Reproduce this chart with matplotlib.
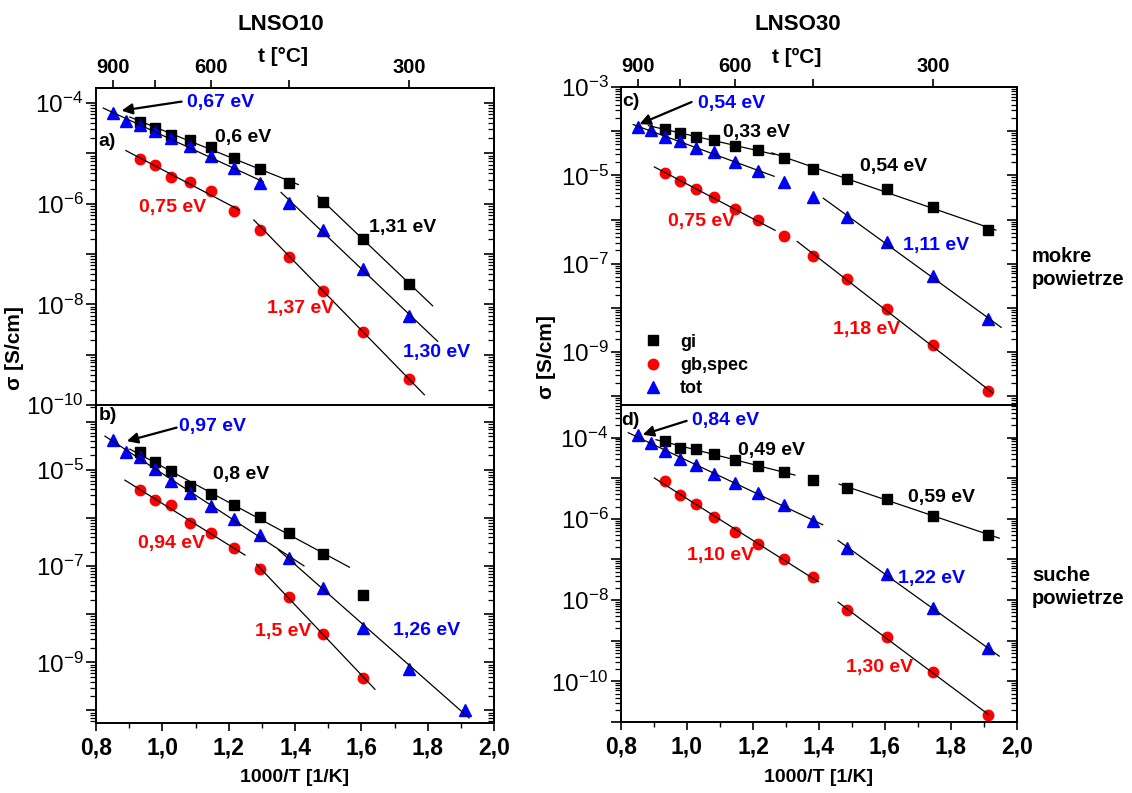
import numpy as np
import matplotlib
matplotlib.use('Agg')
import matplotlib.pyplot as plt
from matplotlib.ticker import (FixedLocator, MultipleLocator, LogLocator,
                               FuncFormatter, NullFormatter, NullLocator)

plt.rcParams['font.family'] = ['Liberation Sans', 'DejaVu Sans']
plt.rcParams['mathtext.default'] = 'regular'

# =======================
# DATA (log10 of sigma [S/cm])
# =======================
temps_full = [900, 850, 800, 750, 700, 650, 600, 550, 500, 450, 400, 350, 300, 250]
temps_a_tot = temps_full[:13]
temps_a_part = temps_full[2:13]
temps_b_part = temps_full[2:12]
temps_cd_part = temps_full[2:]

# a) LNSO10, mokre powietrze
a_gi = [-4.37, -4.49, -4.63, -4.74, -4.87, -5.09, -5.31, -5.58, -5.96, -6.70, -7.59]
a_gb = [-5.11, -5.23, -5.47, -5.56, -5.74, -6.14, -6.53, -7.05, -7.73, -8.55, -9.49]
a_tot = [-4.20, -4.35, -4.43, -4.56, -4.70, -4.86, -5.06, -5.28, -5.58, -5.98, -6.52, -7.30, -8.23]

# b) LNSO10, suche powietrze
b_gi = [-4.62, -4.83, -5.03, -5.34, -5.50, -5.73, -5.98, -6.32, -6.74, -7.59]
b_gb = [-5.42, -5.62, -5.73, -6.11, -6.32, -6.62, -7.06, -7.65, -8.40, -9.32]
b_tot = [-4.38, -4.62, -4.74, -4.97, -5.23, -5.47, -5.74, -6.01, -6.36, -6.82, -7.45, -8.29, -9.13, -10.0]

# c) LNSO30, mokre powietrze
c_gi = [-3.95, -4.04, -4.13, -4.21, -4.34, -4.43, -4.60, -4.85, -5.08, -5.31, -5.72, -6.23]
c_gb = [-4.94, -5.12, -5.32, -5.49, -5.76, -6.02, -6.38, -6.83, -7.35, -8.03, -8.85, -9.88]
c_tot = [-3.91, -3.98, -4.13, -4.23, -4.38, -4.48, -4.70, -4.91, -5.16, -5.49, -5.95, -6.52, -7.29, -8.25]

# d) LNSO30, suche powietrze
d_gi = [-4.08, -4.26, -4.28, -4.40, -4.56, -4.70, -4.85, -5.05, -5.23, -5.52, -5.92, -6.39]
d_gb = [-5.08, -5.42, -5.63, -5.96, -6.33, -6.63, -6.98, -7.44, -8.25, -8.92, -9.76, -10.83]
d_tot = [-3.94, -4.13, -4.33, -4.54, -4.68, -4.91, -5.12, -5.37, -5.65, -6.06, -6.72, -7.36, -8.20, -9.19]

# Arrhenius fits: (series, T high, T low, line from x0 to x1 in 1000/T)
a_fits = [('tot', 900, 500, 0.822, 1.304), ('gi', 800, 450, 0.902, 1.41),
          ('gb', 800, 550, 0.890, 1.232), ('gi', 400, 300, 1.468, 1.815),
          ('tot', 450, 300, 1.358, 1.830), ('gb', 450, 300, 1.276, 1.79)]
b_fits = [('tot', 900, 450, 0.827, 1.427), ('tot', 450, 250, 1.35, 1.925),
          ('gi', 800, 400, 0.902, 1.564), ('gb', 800, 550, 0.887, 1.249),
          ('gb', 500, 350, 1.284, 1.641)]
c_fits = [('tot', 900, 550, 0.837, 1.264), ('gi', 800, 550, 0.883, 1.264),
          ('gi', 500, 250, 1.257, 1.936), ('tot', 400, 250, 1.413, 1.952),
          ('gb', 800, 500, 0.901, 1.267), ('gb', 450, 250, 1.334, 1.925)]
d_fits = [('tot', 900, 450, 0.822, 1.411), ('gi', 800, 500, 0.906, 1.327),
          ('gi', 400, 250, 1.461, 1.946), ('gb', 800, 450, 0.901, 1.398),
          ('tot', 400, 250, 1.458, 1.946), ('gb', 400, 250, 1.458, 1.913)]

# Activation energy labels: (text, colour, x, log10 y)
a_labels = [('0,67 eV', 'blue', 1.073, -3.99), ('0,6 eV', 'black', 1.159, -4.68),
            ('0,75 eV', 'red', 0.930, -6.08), ('1,31 eV', 'black', 1.623, -6.48),
            ('1,37 eV', 'red', 1.315, -8.08), ('1,30 eV', 'blue', 1.726, -8.96)]
b_labels = [('0,97 eV', 'blue', 1.051, -4.10), ('0,8 eV', 'black', 1.154, -5.09),
            ('0,94 eV', 'red', 0.926, -6.53), ('1,5 eV', 'red', 1.279, -8.35),
            ('1,26 eV', 'blue', 1.694, -8.34)]
c_labels = [('0,54 eV', 'blue', 1.032, -3.37), ('0,33 eV', 'black', 1.108, -4.04),
            ('0,54 eV', 'black', 1.524, -4.79), ('0,75 eV', 'red', 0.943, -6.04),
            ('1,11 eV', 'blue', 1.655, -6.59), ('1,18 eV', 'red', 1.443, -8.50)]
d_labels = [('0,84 eV', 'blue', 1.014, -3.59), ('0,49 eV', 'black', 1.155, -4.33),
            ('0,59 eV', 'black', 1.671, -5.47), ('1,10 eV', 'red', 0.999, -6.91),
            ('1,22 eV', 'blue', 1.640, -7.48), ('1,30 eV', 'red', 1.482, -9.66)]

top_ticks = [900, 750, 600, 450, 300]
top_labeled = [900, 600, 300]

STYLE = {'gi': dict(marker='s', color='black', ms=7, label='gi'),
         'gb': dict(marker='o', color='red', ms=7.5, label='gb,spec'),
         'tot': dict(marker='^', color='blue', ms=8, label='tot')}


def inv_t(t):
    return 1000.0 / (np.asarray(t, float) + 273.15)


def x_to_t(x):
    x = np.asarray(x, float)
    with np.errstate(divide='ignore', invalid='ignore'):
        return 1000.0 / x - 273.15


def t_to_x(t):
    t = np.asarray(t, float)
    with np.errstate(divide='ignore', invalid='ignore'):
        return 1000.0 / (t + 273.15)


def draw_panel(ax, series, fits, labels, arrow, letter, ylim, label_exps,
               top=False, bottom=False):
    for key in ['gi', 'gb', 'tot']:
        temps, logs = series[key]
        ax.plot(inv_t(temps), 10.0 ** np.array(logs), ls='none', **STYLE[key])

    for key, thi, tlo, x0, x1 in fits:
        temps, logs = series[key]
        t = np.array(temps)
        m = (t <= thi) & (t >= tlo)
        p = np.polyfit(inv_t(t[m]), np.array(logs)[m], 1)
        xx = np.array([x0, x1])
        ax.plot(xx, 10.0 ** np.polyval(p, xx), color='black', lw=0.9)

    for txt, col, x, ly in labels:
        ax.text(x, 10.0 ** ly, txt, color=col, fontsize=14, fontweight='bold',
                ha='left', va='center')

    (xs, ys), (xe, ye) = arrow
    ax.annotate('', xy=(xe, 10.0 ** ye), xytext=(xs, 10.0 ** ys),
                arrowprops=dict(arrowstyle='-|>', color='black', lw=1.6,
                                mutation_scale=16, shrinkA=0, shrinkB=0))
    ax.text(letter[1], 10.0 ** letter[2], letter[0], fontsize=14,
            fontweight='bold', ha='left', va='center')

    ax.set_yscale('log')
    ax.set_xlim(0.8, 2.0)
    ax.set_ylim(10.0 ** ylim[0], 10.0 ** ylim[1])

    fmt = FuncFormatter(lambda v, p: r'$\mathdefault{10^{%d}}$' % round(np.log10(v))
                        if round(np.log10(v)) in label_exps else '')
    ax.yaxis.set_major_locator(LogLocator(base=10, numticks=30))
    ax.yaxis.set_minor_locator(LogLocator(base=10, subs=np.arange(2, 10), numticks=30))
    ax.yaxis.set_major_formatter(fmt)
    ax.yaxis.set_minor_formatter(NullFormatter())
    ax.tick_params(axis='y', which='major', direction='out', length=7, width=1.2,
                   labelsize=17.5, pad=2)
    ax.tick_params(axis='y', which='minor', direction='out', length=4, width=0.9)

    sy = ax.secondary_yaxis('right')
    sy.yaxis.set_major_locator(LogLocator(base=10, numticks=30))
    sy.yaxis.set_minor_locator(LogLocator(base=10, subs=np.arange(2, 10), numticks=30))
    sy.yaxis.set_major_formatter(NullFormatter())
    sy.yaxis.set_minor_formatter(NullFormatter())
    sy.tick_params(which='major', direction='in', length=7, width=1.2)
    sy.tick_params(which='minor', direction='in', length=4, width=0.9)
    sy.spines['right'].set_linewidth(1.4)

    if bottom:
        ax.xaxis.set_major_locator(MultipleLocator(0.2))
        ax.xaxis.set_minor_locator(MultipleLocator(0.1))
        ax.xaxis.set_major_formatter(FuncFormatter(lambda v, p: f'{v:.1f}'.replace('.', ',')))
        ax.tick_params(axis='x', which='major', direction='out', length=6, width=1.2,
                       labelsize=16.5, pad=4)
        ax.tick_params(axis='x', which='minor', direction='out', length=3.5, width=1)
        for lab in ax.get_xticklabels():
            lab.set_fontweight('bold')
    else:
        ax.tick_params(axis='x', which='both', bottom=False, labelbottom=False)

    if top:
        sx = ax.secondary_xaxis('top', functions=(x_to_t, t_to_x))
        sx.xaxis.set_major_locator(FixedLocator(top_ticks))
        sx.xaxis.set_minor_locator(NullLocator())
        sx.xaxis.set_major_formatter(FuncFormatter(
            lambda v, p: f'{v:.0f}' if int(round(v)) in top_labeled else ''))
        sx.tick_params(direction='out', length=6, width=1.2, labelsize=14.5, pad=2)
        for lab in sx.xaxis.get_ticklabels():
            lab.set_fontweight('bold')
        sx.spines['top'].set_linewidth(1.4)

    for s in ax.spines.values():
        s.set_linewidth(1.4)


fig = plt.figure(figsize=(11.32, 7.93), dpi=100)
W, H = 1132.0, 793.0


def box(l, r, t, b):
    return [l / W, 1 - b / H, (r - l) / W, (b - t) / H]


ax_a = fig.add_axes(box(96, 494, 88, 405))
ax_b = fig.add_axes(box(96, 494, 405, 723))
ax_c = fig.add_axes(box(621, 1017, 87, 405))
ax_d = fig.add_axes(box(621, 1017, 405, 722))

draw_panel(ax_a, {'gi': (temps_a_part, a_gi), 'gb': (temps_a_part, a_gb),
                  'tot': (temps_a_tot, a_tot)},
           a_fits, a_labels, ((1.058, -3.97), (0.877, -4.15)), ('a)', 0.806, -4.76),
           (-10.0, -3.7), [-4, -6, -8, -10], top=True)
draw_panel(ax_b, {'gi': (temps_b_part, b_gi), 'gb': (temps_b_part, b_gb),
                  'tot': (temps_full, b_tot)},
           b_fits, b_labels, ((1.043, -4.12), (0.893, -4.40)), ('b)', 0.808, -3.86),
           (-10.26, -3.65), [-5, -7, -9], bottom=True)
draw_panel(ax_c, {'gi': (temps_cd_part, c_gi), 'gb': (temps_cd_part, c_gb),
                  'tot': (temps_full, c_tot)},
           c_fits, c_labels, ((1.014, -3.34), (0.856, -3.84)), ('c)', 0.805, -3.32),
           (-10.2, -3.0), [-3, -5, -7, -9], top=True)
draw_panel(ax_d, {'gi': (temps_cd_part, d_gi), 'gb': (temps_cd_part, d_gb),
                  'tot': (temps_full, d_tot)},
           d_fits, d_labels, ((0.999, -3.59), (0.866, -3.93)), ('d)', 0.801, -3.57),
           (-11.0, -3.2), [-4, -6, -8, -10], bottom=True)

ax_c.legend(loc='lower left', bbox_to_anchor=(0.03, -0.01), frameon=False,
            numpoints=1, handlelength=1.0, handletextpad=1.0, labelspacing=0.35,
            borderaxespad=0.2, prop={'size': 13, 'weight': 'bold'})

bold = dict(fontweight='bold', ha='center', va='center')
fig.text(281 / W, 1 - 25 / H, 'LNSO10', fontsize=16, **bold)
fig.text(283 / W, 1 - 57 / H, 't [°C]', fontsize=15, **bold)
fig.text(798 / W, 1 - 25 / H, 'LNSO30', fontsize=16, **bold)
fig.text(797 / W, 1 - 57 / H, 't [ºC]', fontsize=15, **bold)
fig.text(295 / W, 1 - 778 / H, '1000/T [1/K]', fontsize=14, **bold)
fig.text(819 / W, 1 - 778 / H, '1000/T [1/K]', fontsize=14, **bold)
fig.text(14 / W, 1 - 348 / H, 'σ [S/cm]', fontsize=15, rotation=90, **bold)
fig.text(546 / W, 1 - 357 / H, 'σ [S/cm]', fontsize=15, rotation=90, **bold)
fig.text(1032 / W, 1 - 268 / H, 'mokre\npowietrze', fontsize=14.5, fontweight='bold',
         ha='left', va='center', linespacing=1.25)
fig.text(1032 / W, 1 - 587 / H, 'suche\npowietrze', fontsize=14.5, fontweight='bold',
         ha='left', va='center', linespacing=1.25)

fig.savefig('out.png', dpi=100)
